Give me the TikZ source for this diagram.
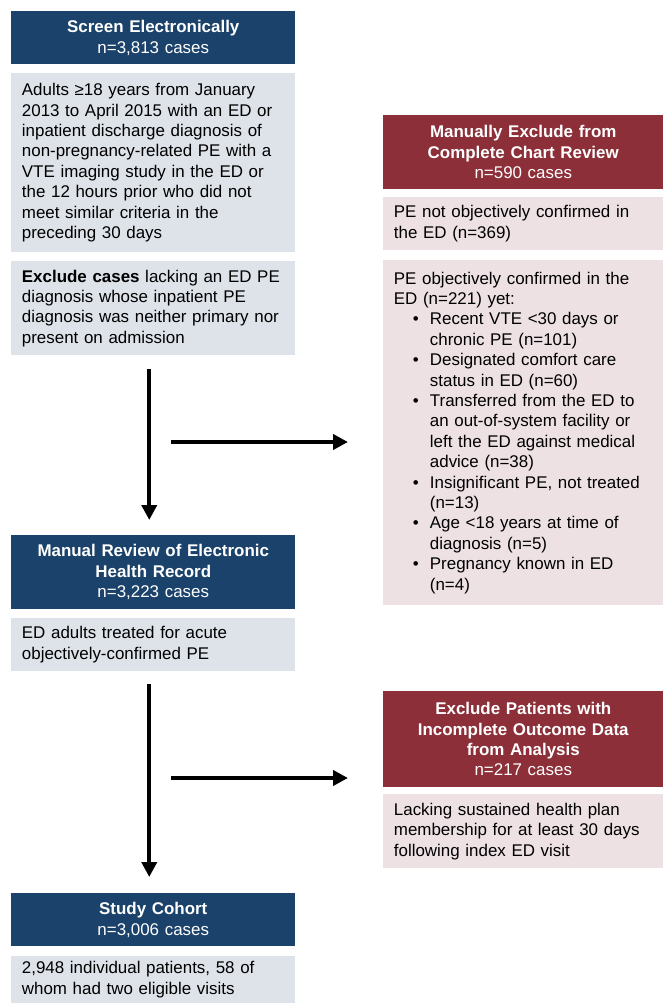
\documentclass[tikz,border=0pt]{standalone}
\usepackage{fontspec}
\setmainfont{Liberation Sans}
\usetikzlibrary{arrows.meta}
\definecolor{navy}{HTML}{1B426B}
\definecolor{wine}{HTML}{8C2F39}
\definecolor{mist}{HTML}{DEE3EA}
\definecolor{blush}{HTML}{EDE1E4}

\newcommand{\bulitem}{\hspace*{14.25pt}\makebox[12.75pt][l]{\textbullet}}
\newcommand{\bulcont}{\hspace*{27pt}}

\begin{document}
\begin{tikzpicture}[x=0.75pt, y=-0.75pt,
    every node/.style={font=\fontsize{12.7}{15.3}\selectfont, anchor=north west, inner ysep=0pt},
    lhead/.style={rectangle, fill=navy, text=white, align=center, text width=197pt, inner xsep=8pt},
    lbox/.style={rectangle, fill=mist, align=left, text width=197pt, inner xsep=8pt},
    rhead/.style={rectangle, fill=wine, text=white, align=center, text width=194pt, inner xsep=8pt},
    rbox/.style={rectangle, fill=blush, align=left, text width=194pt, inner xsep=8pt},
    flow/.style={-{Triangle[length=11.25pt, width=11.25pt]}, line width=3pt},
]
\useasboundingbox (0,0) rectangle (663,1003);

% Left column: main pathway
\node[lhead, minimum height=39.75pt] (scr) at (11,11)
    {\textbf{Screen Electronically}\\n=3,813 cases};
\node[lbox, minimum height=134.25pt] (scrtxt) at (11,73)
    {Adults ≥18 years from January\\2013 to April 2015 with an ED or\\inpatient discharge diagnosis of\\non-pregnancy-related PE with a\\VTE imaging study in the ED or\\the 12 hours prior who did not\\meet similar criteria in the\\preceding 30 days};
\node[lbox, minimum height=70.5pt] (excl) at (11,261)
    {\textbf{Exclude cases} lacking an ED PE\\diagnosis whose inpatient PE\\diagnosis was neither primary nor\\present on admission};

\node[lhead, minimum height=55.5pt] (rev) at (11,535)
    {\textbf{Manual Review of Electronic}\\\textbf{Health Record}\\n=3,223 cases};
\node[lbox, minimum height=39.75pt] (revtxt) at (11,618)
    {ED adults treated for acute\\objectively-confirmed PE};

\node[lhead, minimum height=39.75pt] (coh) at (11,893)
    {\textbf{Study Cohort}\\n=3,006 cases};
\node[lbox, minimum height=35.25pt] (cohtxt) at (11,956)
    {2,948 individual patients, 58 of\\whom had two eligible visits};

% Right column: exclusions
\node[rhead, minimum height=55.5pt] (mex) at (383,115)
    {\textbf{Manually Exclude from}\\\textbf{Complete Chart Review}\\n=590 cases};
\node[rbox, minimum height=39.75pt] (mextxt1) at (383,197)
    {PE not objectively confirmed in\\the ED (n=369)};
\node[rbox, minimum height=258.75pt] (mextxt2) at (383,260)
    {PE objectively confirmed in the\\ED (n=221) yet:\\
     \bulitem Recent VTE <30 days or\\\bulcont chronic PE (n=101)\\
     \bulitem Designated comfort care\\\bulcont status in ED (n=60)\\
     \bulitem Transferred from the ED to\\\bulcont an out-of-system facility or\\\bulcont left the ED against medical\\\bulcont advice (n=38)\\
     \bulitem Insignificant PE, not treated\\\bulcont (n=13)\\
     \bulitem Age <18 years at time of\\\bulcont diagnosis (n=5)\\
     \bulitem Pregnancy known in ED\\\bulcont (n=4)};

\node[rhead, minimum height=72pt] (oex) at (383,691)
    {\textbf{Exclude Patients with}\\\textbf{Incomplete Outcome Data}\\\textbf{from Analysis}\\n=217 cases};
\node[rbox, minimum height=55.5pt] (oextxt) at (383,794)
    {Lacking sustained health plan\\membership for at least 30 days\\following index ED visit};

% Arrows
\draw[flow, shorten <=9.75pt, shorten >=11.25pt] ([xshift=-3pt]excl.south) -- ([xshift=-3pt]rev.north);
\draw[flow, shorten <=9pt, shorten >=12pt] ([xshift=-3pt]revtxt.south) -- ([xshift=-3pt]coh.north);

\coordinate (fork1) at (171,442);
\draw[flow, shorten >=26.25pt] (fork1) -- (fork1 -| mextxt2.west);
\coordinate (fork2) at (171,778);
\draw[flow, shorten >=26.25pt] (fork2) -- (fork2 -| oex.west);
\end{tikzpicture}
\end{document}
